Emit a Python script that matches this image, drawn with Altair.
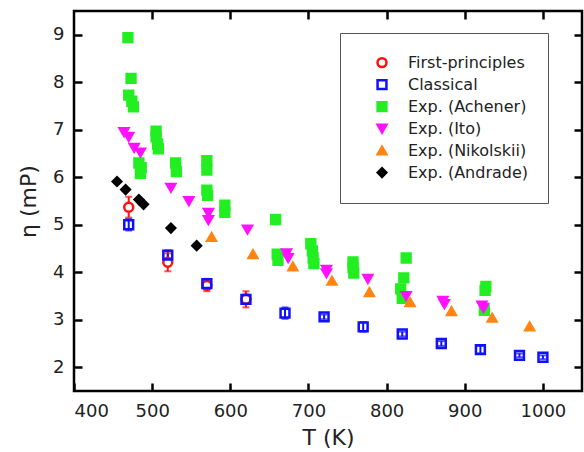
import altair as alt
import pandas as pd

# ---- series data: temperature T (K) and viscosity eta (mP) ----
names = ["First-principles", "Classical", "Exp. (Achener)", "Exp. (Ito)",
         "Exp. (Nikolskii)", "Exp. (Andrade)"]

fp_T = [470, 520, 570, 620]
fp_eta = [5.37, 4.21, 3.72, 3.43]
fp_err = [0.22, 0.19, 0.12, 0.17]

cl_T = [470, 520, 570, 620, 670, 720, 770, 820, 870, 920, 970, 1000]
cl_eta = [5.00, 4.36, 3.76, 3.43, 3.14, 3.06, 2.85, 2.70, 2.50, 2.37, 2.25, 2.21]
cl_err = [0.12, 0.10, 0.10, 0.10, 0.12, 0.05, 0.10, 0.05, 0.05, 0.08, 0.04, 0.04]

ach_T = [469, 473, 470, 474, 476, 483, 486, 485, 505, 505, 507, 508, 530, 531,
         570, 570, 570, 571, 593, 593, 658, 660, 661, 703, 705, 706, 707,
         757, 757, 758, 825, 822, 818, 820, 927, 926, 925]
ach_eta = [8.94, 8.08, 7.73, 7.60, 7.48, 6.30, 6.20, 6.08, 6.97, 6.85, 6.70, 6.60,
           6.30, 6.12, 6.35, 6.15, 5.73, 5.62, 5.41, 5.26, 5.11, 4.38, 4.25,
           4.60, 4.45, 4.30, 4.18, 4.22, 4.10, 3.98, 4.30, 3.88, 3.65, 3.45,
           3.70, 3.62, 3.20]

ito_T = [464, 470, 477, 485, 524, 547, 572, 572, 622, 672, 674, 723, 723, 776,
         825, 872, 874, 922, 924]
ito_eta = [6.95, 6.85, 6.62, 6.52, 5.78, 5.50, 5.25, 5.10, 4.90, 4.40, 4.30,
           4.05, 3.98, 3.86, 3.50, 3.40, 3.33, 3.30, 3.25]

nik_T = [576, 629, 680, 730, 778, 830, 883, 935, 983]
nik_eta = [4.74, 4.38, 4.12, 3.82, 3.58, 3.37, 3.18, 3.04, 2.86]

and_T = [455, 466, 483, 489, 524, 557]
and_eta = [5.91, 5.74, 5.53, 5.43, 4.93, 4.56]

# ---- styles ----
colors = ["#ff1010", "#1010ff", "#22ee22", "#ff10ff", "#ff8410", "#000000"]
fills = ["white", "transparent", "#22ee22", "#ff10ff", "#ff8410", "#000000"]
shapes = ["circle", "square", "square", "triangle-down", "triangle-up", "diamond"]
sizes = [80, 74, 110, 170, 165, 165]
widths = [2.5, 2.5, 0, 0, 0, 0]

x_ticks = [400, 500, 600, 700, 800, 900, 1000]
y_ticks = [2, 3, 4, 5, 6, 7, 8, 9]
font = "DejaVu Sans"

# ---- tables ----
groups = [(fp_T, fp_eta), (cl_T, cl_eta), (ach_T, ach_eta), (ito_T, ito_eta),
          (nik_T, nik_eta), (and_T, and_eta)]
rows = []
for rank, (name, (ts, es)) in enumerate(zip(names, groups)):
    for t, e in zip(ts, es):
        rows.append({"series": name, "T": t, "eta": e, "rank": rank})
points = pd.DataFrame(rows)

err_rows, cap_rows = [], []
for name, col, ts, es, ds in [(names[0], colors[0], fp_T, fp_eta, fp_err),
                              (names[1], colors[1], cl_T, cl_eta, cl_err)]:
    for t, e, d in zip(ts, es, ds):
        err_rows.append({"T": t, "lo": e - d, "hi": e + d, "col": col})
        cap_rows.append({"T": t, "v": e - d, "col": col})
        cap_rows.append({"T": t, "v": e + d, "col": col})
errs = pd.DataFrame(err_rows)
caps = pd.DataFrame(cap_rows)

xs = alt.Scale(domain=[400, 1050], nice=False, zero=False)
ys = alt.Scale(domain=[1.5, 9.5], nice=False, zero=False)


def mirror(orient, values):
    """Unlabelled axis whose ticks point into the plot frame."""
    return alt.Axis(orient=orient, values=values, offset=-8, tickSize=8, tickWidth=2.5,
                    tickColor="black", domain=False, grid=False, labels=False, title=None)


x_bottom = alt.Axis(orient="bottom", values=x_ticks, format="d", offset=-8, tickSize=8,
                    tickWidth=2.5, tickColor="black", domain=False, grid=False,
                    title="T (K)", labelPadding=11, titlePadding=7)
y_left = alt.Axis(orient="left", values=y_ticks, format="d", offset=-8, tickSize=8,
                  tickWidth=2.5, tickColor="black", domain=False, grid=False,
                  title="η (mP)", labelPadding=10, titlePadding=12)

legend = alt.Legend(title=None, orient="none", legendX=266, legendY=22)
common_scale = dict(domain=names)

# error bars (drawn beneath markers); this layer carries the mirrored top/right ticks
bars = alt.Chart(errs).mark_rule(strokeWidth=2).encode(
    x=alt.X("T:Q", scale=xs, axis=mirror("top", x_ticks[1:])),
    y=alt.Y("lo:Q", scale=ys, axis=mirror("right", y_ticks)),
    y2="hi:Q",
    color=alt.Color("col:N", scale=None),
)

cap_marks = alt.Chart(caps).mark_tick(orient="horizontal", size=7, thickness=2).encode(
    x=alt.X("T:Q", scale=xs, axis=None),
    y=alt.Y("v:Q", scale=ys, axis=None),
    color=alt.Color("col:N", scale=None),
)

marks = alt.Chart(points).mark_point(opacity=1).encode(
    x=alt.X("T:Q", scale=xs, axis=x_bottom),
    y=alt.Y("eta:Q", scale=ys, axis=y_left),
    shape=alt.Shape("series:N", scale=alt.Scale(range=shapes, **common_scale), legend=legend),
    stroke=alt.Stroke("series:N", scale=alt.Scale(range=colors, **common_scale), legend=legend),
    fill=alt.Fill("series:N", scale=alt.Scale(range=fills, **common_scale), legend=legend),
    size=alt.Size("series:N", scale=alt.Scale(range=sizes, **common_scale), legend=legend),
    strokeWidth=alt.StrokeWidth("series:N", scale=alt.Scale(range=widths, **common_scale),
                                legend=legend),
    order=alt.Order("rank:Q"),
)

chart = alt.layer(bars, cap_marks, marks).resolve_scale(
    x="independent", y="independent"
).properties(
    width=508, height=380,
    autosize="none",
    padding={"left": 74, "top": 11, "right": 2, "bottom": 61},
).configure_view(
    stroke="black", strokeWidth=2.5
).configure_axis(
    labelFont=font, labelFontSize=18, labelColor="#222",
    titleFont=font, titleFontSize=22, titleColor="#222", titleFontWeight="normal",
).configure_legend(
    padding=19, strokeColor="#555", strokeWidth=1, fillColor="white",
    labelFont=font, labelFontSize=16, labelColor="#222", labelOffset=18,
    symbolOffset=15, rowPadding=0, clipHeight=21.2,
)

chart.save("out.html", embed_options={"renderer": "svg", "actions": False})
